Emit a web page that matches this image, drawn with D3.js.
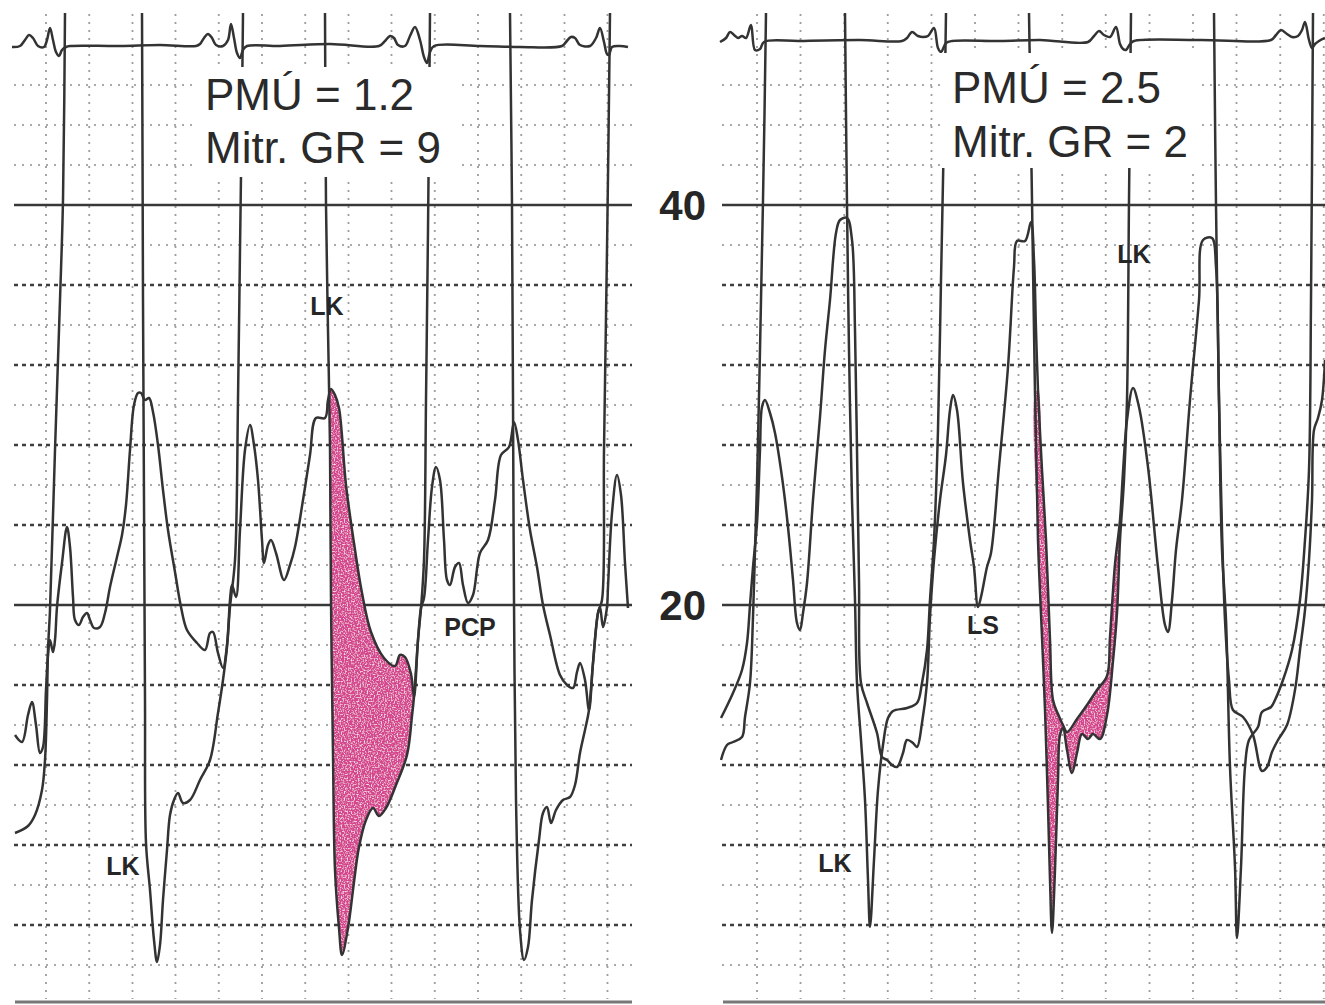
<!DOCTYPE html>
<html>
<head>
<meta charset="utf-8">
<script src="https://cdn.jsdelivr.net/npm/d3@7"></script>
<style>
  body { margin: 0; background: #fff; }
  svg { display: block; }
</style>
</head>
<body>
<div id="container"></div>
<script>
const w = 1325;
const h = 1005;

// time in ms from the left edge of each strip, pressure in mmHg, ECG in mV
const leftLV = [[12,8.6],[64,8.95],[92,9.5],[120,10.75],[132,12.25],[140,15.25],[144,17.75],[152,19.75],[172,27.75],[192,35.25],[204,40.25],[212,49.6],[216,56],
  [516,56],[520,49.6],[524,35.25],[528,25.25],[532,15.25],[536,8.1],[552,5.75],[568,3.25],[580,2.15],[592,3.0],[604,5.25],[620,7.75],[632,9.5],[648,10.25],[664,10.6],[684,10.1],[712,10.25],[752,11.25],[792,12.25],[824,14.6],[844,16.25],[860,17.9],[872,19.9],[892,22.25],[904,30.25],[912,37.75],[920,45.25],[924,49.6],[928,56],
  [1248,56],[1252,49.6],[1256,40],[1264,33.75],[1272,27.9],[1276,20.25],[1284,12.5],[1292,6.75],[1308,3.85],[1320,2.5],[1344,3.85],[1368,6.15],[1388,7.9],[1416,9.25],[1444,9.85],[1468,9.45],[1496,9.85],[1536,11.0],[1580,12.5],[1600,14.45],[1608,15.4],[1624,18.25],[1636,19.85],[1648,22.25],[1656,30.25],[1664,38.75],[1672,49.6],[1676,56],
  [1988,56],[1992,49.6],[2000,40],[2004,30.25],[2008,20.25],[2016,10.25],[2032,3.75],[2048,2.25],[2064,2.9],[2080,5.25],[2108,8.25],[2124,9.6],[2140,9.9],[2156,9.1],[2176,9.75],[2204,10.25],[2232,10.4],[2252,11.0],[2272,12.6],[2292,13.75],[2308,14.75],[2324,17.1],[2344,19.6],[2360,20.25],[2368,27.75],[2380,37.75],[2392,49.6],[2396,56],[2512,56]];

const leftPCP = [[12,13.5],[40,13.15],[64,14.5],[80,15.15],[96,14.0],[112,12.6],[124,12.9],[136,15.75],[144,17.5],[152,18.25],[164,17.65],[172,18.25],[180,19.9],[200,22.1],[220,23.9],[232,22.9],[244,20.4],[252,19.25],[268,19.0],[284,19.4],[300,19.6],[312,19.25],[328,18.85],[352,18.9],[372,19.6],[392,20.9],[420,22.4],[440,23.5],[456,25.0],[472,27.75],[488,30.0],[504,30.6],[516,30.6],[532,30.25],[548,30.35],[564,29.65],[584,28.0],[604,25.75],[624,23.75],[652,21.65],[676,19.9],[700,18.75],[740,18.1],[772,17.75],[792,18.6],[804,18.65],[824,17.6],[844,16.85],[860,18.0],[872,20.25],[880,21.0],[896,20.4],[912,23.75],[932,27.75],[952,29.0],[968,28.0],[984,26.25],[1000,23.25],[1008,22.1],[1024,23.0],[1036,23.25],[1056,22.6],[1088,21.25],[1112,22.0],[1132,22.9],[1164,25.25],[1192,27.5],[1216,29.35],[1252,29.35],[1264,30.25],[1276,30.8],[1292,30.5],[1308,29.85],[1336,26.0],[1368,23.1],[1400,20.6],[1436,18.65],[1488,17.35],[1532,16.95],[1552,17.5],[1572,17.4],[1596,16.55],[1608,15.4],[1624,18.25],[1636,19.85],[1648,20.35],[1664,23.25],[1680,25.9],[1696,26.9],[1712,26.25],[1728,23.25],[1740,21.25],[1752,21.0],[1772,21.9],[1788,22.1],[1804,21.0],[1824,20.1],[1844,20.5],[1872,22.6],[1904,23.25],[1932,25.25],[1956,27.5],[1988,27.9],[2008,29.15],[2024,28.25],[2044,26.25],[2072,23.75],[2100,21.9],[2124,20.0],[2152,18.5],[2192,16.5],[2220,16.0],[2244,15.85],[2260,16.65],[2272,17.1],[2292,16.25],[2308,14.75],[2324,17.1],[2344,19.6],[2352,19.9],[2364,18.9],[2380,19.9],[2384,20.9],[2400,24.6],[2420,26.5],[2436,25.5],[2452,22.1],[2464,19.85]];

const leftECG = [[0,-0.05],[32,0],[52,0.3],[68,0.55],[84,0.4],[104,0],[128,-0.05],[140,0.3],[152,0.9],[164,0.3],[176,-0.3],[188,-0.5],[200,-0.2],[216,-0.05],[232,0],[432,0],[592,0.05],[736,0],[752,0.1],[768,0.4],[784,0.6],[800,0.4],[816,0.05],[844,0],[864,0.3],[876,1.1],[888,0.4],[900,-0.35],[912,-0.6],[924,-0.2],[940,0],[1072,0],[1272,0.1],[1468,0],[1492,0.25],[1512,0.5],[1528,0.4],[1544,0.05],[1572,0],[1592,0.5],[1612,0.95],[1632,0.3],[1648,-0.55],[1660,-0.85],[1672,-0.3],[1688,0],[1872,0],[2032,-0.05],[2200,0],[2216,0.2],[2236,0.45],[2252,0.4],[2272,0.05],[2312,0],[2336,0.4],[2352,0.9],[2368,0.2],[2380,-0.4],[2388,-0.45],[2400,-0.05],[2432,0],[2464,-0.05]];

const rightLV = [[4,12.25],[28,13.0],[52,13.15],[88,13.4],[100,14.4],[120,16.1],[132,19.4],[140,22.75],[148,26.1],[160,32.75],[172,40.25],[184,49.6],[188,56],
  [496,56],[500,49.6],[508,40],[516,32.75],[528,25.25],[540,20.25],[548,16.1],[564,13.25],[580,10.25],[592,6.25],[600,3.9],[616,7.25],[632,10.75],[652,13.0],[672,14.35],[692,14.7],[748,14.85],[788,15.1],[808,16.1],[828,17.75],[840,20.25],[856,23.25],[872,28.75],[884,36.25],[896,43.75],[904,49.6],[908,56],
  [1228,56],[1236,49.6],[1248,40.25],[1260,30.55],[1272,23.25],[1288,18.4],[1300,14.75],[1312,9.9],[1320,6.25],[1328,3.6],[1340,6.75],[1352,11.25],[1360,13.5],[1372,13.85],[1388,12.75],[1408,11.6],[1428,12.6],[1448,13.55],[1472,13.3],[1492,13.55],[1520,13.3],[1548,14.5],[1572,17.2],[1588,19.6],[1600,23.25],[1616,26.25],[1628,30.25],[1636,40.25],[1644,49.6],[1648,56],
  [1972,56],[1976,49.6],[1984,40],[1996,30.25],[2008,22.75],[2024,19.25],[2040,11.9],[2060,6.9],[2068,3.35],[2084,6.9],[2100,11.9],[2116,13.25],[2152,13.9],[2168,14.65],[2204,14.9],[2220,15.25],[2252,16.25],[2288,17.75],[2320,20.25],[2340,23.25],[2356,26.75],[2364,35.25],[2372,49.6],[2376,56],[2440,56]];

const rightLA = [[4,14.35],[52,15.6],[88,16.75],[108,18.1],[120,20.0],[132,21.9],[148,24.1],[160,27.75],[168,29.9],[180,30.25],[200,29.6],[220,28.6],[248,26.4],[272,23.9],[292,21.25],[308,19.1],[320,18.75],[332,19.6],[348,21.1],[372,25.25],[400,29.4],[420,32.75],[440,35.25],[464,38.6],[480,39.25],[508,39.35],[528,38.25],[540,33.75],[548,27.75],[556,21.25],[564,16.1],[588,15.1],[628,13.6],[648,12.4],[668,12.25],[688,12.0],[708,11.9],[732,12.6],[748,13.25],[772,13.1],[788,12.9],[808,14.1],[828,16.1],[840,19.4],[856,22.25],[880,25.25],[904,27.5],[920,29.75],[932,30.5],[948,29.75],[972,26.1],[1000,23.25],[1016,21.9],[1032,19.9],[1044,20.4],[1068,21.9],[1084,22.6],[1116,26.9],[1152,31.9],[1176,36.9],[1188,38.2],[1220,38.2],[1244,39.15],[1256,37.25],[1264,33.75],[1272,30.75],[1288,26.75],[1304,23.25],[1320,18.25],[1332,15.25],[1352,14.55],[1372,14.0],[1388,13.65],[1428,14.3],[1468,15.0],[1508,15.75],[1548,16.45],[1560,18.4],[1580,22.05],[1600,24.25],[1612,26.65],[1628,29.25],[1652,30.85],[1676,29.9],[1712,26.9],[1752,21.9],[1780,19.0],[1792,18.65],[1808,20.25],[1824,22.75],[1848,25.25],[1880,30.25],[1916,35.25],[1932,38.25],[1968,38.35],[1984,36.9],[1996,30.25],[2008,23.75],[2020,19.25],[2036,16.25],[2052,14.75],[2092,14.4],[2132,13.5],[2168,11.7],[2188,11.9],[2208,12.65],[2232,13.25],[2268,14.0],[2300,15.75],[2320,17.75],[2340,19.75],[2356,22.25],[2368,25.25],[2376,28.75],[2392,29.35],[2408,30.25],[2420,32.25]];

const rightECG = [[0,-0.05],[24,0.15],[40,0.45],[56,0.3],[72,0.15],[88,0.25],[104,0.15],[124,0.8],[140,-0.45],[160,-0.4],[176,-0.05],[320,0],[560,0.05],[728,0],[748,0.15],[768,0.45],[792,0.25],[812,0.2],[832,0.25],[856,0.65],[872,-0.35],[884,-0.55],[904,-0.1],[928,0],[1120,0],[1280,0.05],[1472,-0.05],[1496,0.25],[1516,0.5],[1536,0.3],[1560,0.2],[1584,0.7],[1600,-0.15],[1612,-0.4],[1624,-0.45],[1640,-0.15],[1656,0],[1920,0.05],[2204,0.05],[2224,0.3],[2244,0.55],[2268,0.35],[2288,0.2],[2312,0.25],[2328,0.55],[2340,0.95],[2356,0.05],[2368,-0.35],[2380,-0.15],[2396,0],[2420,0.15]];

// chart paper grid
const solidLevels = [40, 20];
const heavyLevels = [36, 32, 28, 24, 16, 12, 8, 4];
const lightLevels = [46, 44, 42, 38, 34, 30, 26, 22, 18, 14, 10, 6, 2];
const leftTimeTicks = [136, 309, 482, 654, 827, 1000, 1173, 1346, 1518, 1691, 1864, 2037, 2210, 2382];
const rightTimeTicks = [148, 322, 497, 671, 846, 1020, 1194, 1369, 1543, 1718, 1892, 2066, 2241, 2415];
const pressureLabels = [40, 20];

const leftTitle = ["PMÚ = 1.2", "Mitr. GR = 9"];
const rightTitle = ["PMÚ = 2.5", "Mitr. GR = 2"];
const leftNotes = [["LK", 1260, 34.5], ["PCP", 1832, 18.45], ["LK", 444, 6.5]];
const rightNotes = [["LK", 1656, 37.1], ["LS", 1052, 18.55], ["LK", 460, 6.65]];

const panels = [
  { left: 12, right: 632, tMax: 2480, ecgBase: 46, lv: leftLV, la: leftPCP, ecg: leftECG, ticks: leftTimeTicks,
    fillLA: [1276, 1608], fillLV: [1272, 1608], title: leftTitle, titleAt: [772, 44.75, 42.1], box: [744, 1780, 46.9, 41.4], notes: leftNotes },
  { left: 720, right: 1325, tMax: 2420, ecgBase: 41, lv: rightLV, la: rightLA, ecg: rightECG, ticks: rightTimeTicks,
    fillLA: [1272, 1600], fillLV: [1260, 1600], title: rightTitle, titleAt: [928, 45.1, 42.4], box: [880, 1908, 47.6, 41.85], notes: rightNotes }
];

const svg = d3.select("#container").append("svg")
              .attr("width", w).attr("height", h);
const y = d3.scaleLinear().domain([0, 50]).range([1005, 5]);

const defs = svg.append("defs");
const speckle = defs.append("filter").attr("id", "speckle")
  .attr("x", 0).attr("y", 0).attr("width", 1).attr("height", 1);
speckle.append("feTurbulence").attr("type", "fractalNoise")
  .attr("baseFrequency", 0.7).attr("numOctaves", 1).attr("seed", 3).attr("result", "noise");
speckle.append("feColorMatrix").attr("in", "noise").attr("type", "matrix")
  .attr("values", "0 0 0 0 1  0 0 0 0 0.85  0 0 0 0 0.92  -3 0 0 0 1.55").attr("result", "white");
speckle.append("feComposite").attr("in", "white").attr("in2", "SourceGraphic").attr("operator", "in").attr("result", "spots");
const merge = speckle.append("feMerge");
merge.append("feMergeNode").attr("in", "SourceGraphic");
merge.append("feMergeNode").attr("in", "spots");

panels.forEach(function(p, i) {
  const x = d3.scaleLinear().domain([0, p.tMax]).range([p.left, p.right]);
  const ecgY = d3.scaleLinear().domain([-1, 1]).range([p.ecgBase + 20, p.ecgBase - 20]);
  const g = svg.append("g");

  defs.append("clipPath").attr("id", "clip" + i)
    .append("rect").attr("x", p.left).attr("y", 13)
    .attr("width", p.right - p.left).attr("height", h - 13);

  g.selectAll(".vgrid").data(p.ticks).enter().append("line")
    .attr("x1", d => x(d)).attr("x2", d => x(d))
    .attr("y1", 14).attr("y2", y(0.3))
    .attr("stroke", "#9c9c9c").attr("stroke-width", 1.8).attr("stroke-dasharray", "2,6");

  g.selectAll(".light").data(lightLevels).enter().append("line")
    .attr("x1", p.left + 2).attr("x2", p.right)
    .attr("y1", d => y(d)).attr("y2", d => y(d))
    .attr("stroke", "#aaaaaa").attr("stroke-width", 1.8).attr("stroke-dasharray", "2,6");

  g.selectAll(".heavy").data(heavyLevels).enter().append("line")
    .attr("x1", p.left + 2).attr("x2", p.right)
    .attr("y1", d => y(d)).attr("y2", d => y(d))
    .attr("stroke", "#3e3e3e").attr("stroke-width", 2.6).attr("stroke-dasharray", "4,4");

  g.selectAll(".solid").data(solidLevels).enter().append("line")
    .attr("x1", p.left + 2).attr("x2", p.right)
    .attr("y1", d => y(d)).attr("y2", d => y(d))
    .attr("stroke", "#383838").attr("stroke-width", 2.3);

  g.append("line")
    .attr("x1", p.left + 3).attr("x2", p.right)
    .attr("y1", y(0.15)).attr("y2", y(0.15))
    .attr("stroke", "#777").attr("stroke-width", 2.8);

  // shaded mitral gradient (between atrial and ventricular pressures)
  const fillPts = p.la.filter(d => d[0] >= p.fillLA[0] && d[0] <= p.fillLA[1])
    .concat(p.lv.filter(d => d[0] >= p.fillLV[0] && d[0] <= p.fillLV[1]).reverse());
  g.append("path").datum(fillPts)
    .attr("d", d3.line().x(d => x(d[0])).y(d => y(d[1])).curve(d3.curveCatmullRomClosed.alpha(0.5)))
    .attr("fill", "#d4468f").attr("filter", "url(#speckle)");

  const line = d3.line().x(d => x(d[0])).y(d => y(d[1])).curve(d3.curveCatmullRom.alpha(0.5));
  [p.lv, p.la].forEach(function(s) {
    g.append("path").datum(s)
      .attr("d", line)
      .attr("clip-path", "url(#clip" + i + ")")
      .attr("fill", "none").attr("stroke", "#333").attr("stroke-width", 2.5)
      .attr("stroke-linejoin", "round");
  });

  g.append("path").datum(p.ecg)
    .attr("d", d3.line().x(d => x(d[0])).y(d => ecgY(d[1])).curve(d3.curveCatmullRom.alpha(0.5)))
    .attr("fill", "none").attr("stroke", "#333").attr("stroke-width", 2.5);

  // label box hides the lines behind the title
  g.append("rect")
    .attr("x", x(p.box[0])).attr("y", y(p.box[2]))
    .attr("width", x(p.box[1]) - x(p.box[0])).attr("height", y(p.box[3]) - y(p.box[2]))
    .attr("fill", "#fff");

  g.selectAll(".title").data(p.title).enter().append("text")
    .attr("x", x(p.titleAt[0]))
    .attr("y", (d, k) => y(p.titleAt[k + 1]))
    .attr("font-family", "Liberation Sans, Arial, sans-serif")
    .attr("font-size", 44).attr("fill", "#2a2a2a")
    .text(d => d);

  g.selectAll(".note").data(p.notes).enter().append("text")
    .attr("x", d => x(d[1])).attr("y", d => y(d[2]))
    .attr("text-anchor", "middle")
    .attr("font-family", "Liberation Sans, Arial, sans-serif")
    .attr("font-weight", "bold").attr("font-size", 25).attr("fill", "#262626")
    .text(d => d[0]);
});

svg.selectAll(".ylab").data(pressureLabels).enter().append("text")
  .attr("x", 706).attr("y", d => y(d) + 15)
  .attr("text-anchor", "end")
  .attr("font-family", "Liberation Sans, Arial, sans-serif")
  .attr("font-weight", "bold").attr("font-size", 42).attr("fill", "#262626")
  .text(d => d);
</script>
</body>
</html>
